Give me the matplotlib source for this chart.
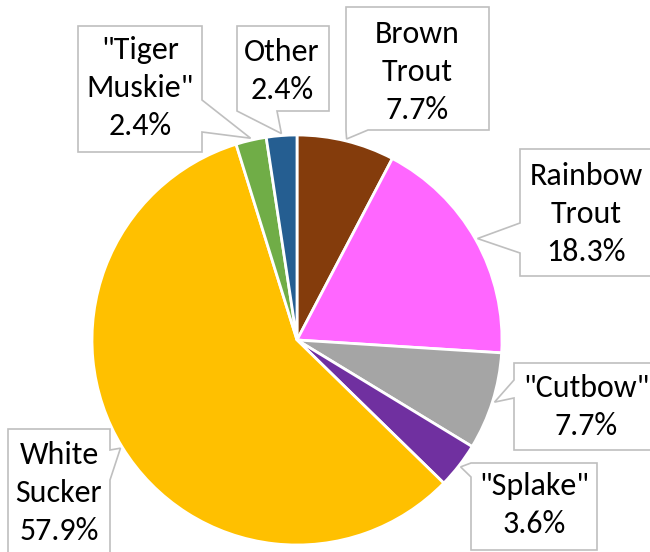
import matplotlib
matplotlib.use("Agg")
import matplotlib.pyplot as plt
from matplotlib.patches import Polygon
import numpy as np

# ---- data ----
categories = ["Brown\nTrout", "Rainbow\nTrout", "\"Cutbow\"", "\"Splake\"",
              "White\nSucker", "\"Tiger\nMuskie\"", "Other"]
values = [7.7, 18.3, 7.7, 3.6, 57.9, 2.4, 2.4]
colors = ["#843C0C", "#FF66FF", "#A5A5A5", "#7030A0", "#FFC000", "#70AD47", "#255E91"]

# ---- layout (pixel geometry of the figure) ----
W, H = 650, 552
CX, CY, R = 297, 340, 205

def px(x, y):
    return ((x - CX) / R, (CY - y) / R)

# label boxes: (left, top, right, bottom), pointer edge, base points along edge, text centre
boxes = [
    dict(rect=(346, 7, 489, 130), edge="bottom", base=(368, 346), text=(417, 72)),
    dict(rect=(520, 149, 653, 276), edge="left", base=(253, 223), text=(586, 214)),
    dict(rect=(514, 363, 653, 450), edge="left", base=(398, 380), text=(586, 407)),
    dict(rect=(471, 463, 597, 550), edge="left", base=(477, 463), text=(534, 505)),
    dict(rect=(8, 429, 110, 556), edge="right", base=(450, 480), text=(59, 493)),
    dict(rect=(78, 26, 202, 152), edge="right", base=(100, 132), text=(140, 88)),
    dict(rect=(237, 26, 329, 111), edge="bottom", base=(277, 237), text=(282, 71)),
]

plt.rcParams['font.family'] = ['Carlito', 'Open Sans', 'DejaVu Sans']

fig = plt.figure(figsize=(W / 100, H / 100), dpi=100)
ax = fig.add_axes([0, 0, 1, 1])
ax.pie(values, colors=colors, startangle=90, counterclock=False, radius=1,
       wedgeprops=dict(edgecolor="white", linewidth=2))
ax.set_xlim(-CX / R, (W - CX) / R)
ax.set_ylim(-(H - CY) / R, CY / R)
ax.set_aspect("equal")
ax.axis("off")

cum = np.cumsum(values)
total = cum[-1]
for i, (lab, b) in enumerate(zip(categories, boxes)):
    theta = np.deg2rad(360 * (cum[i] - values[i] / 2) / total)
    tip = (1.01 * np.sin(theta), 1.01 * np.cos(theta))
    l, t, r, bt = b["rect"]
    TL, TR, BR, BLc = px(l, t), px(r, t), px(r, bt), px(l, bt)
    e = b["edge"]
    b1, b2 = b["base"]
    if e == "bottom":
        p1, p2 = px(b1, bt), px(b2, bt)
        verts = [TL, TR, BR, p1, tip, p2, BLc]
    elif e == "left":
        p1, p2 = px(l, b1), px(l, b2)
        verts = [TL, TR, BR, BLc, p1, tip, p2]
    elif e == "right":
        p1, p2 = px(r, b1), px(r, b2)
        verts = [TL, TR, p1, tip, p2, BR, BLc]
    poly = Polygon(verts, closed=True, facecolor="white", edgecolor="#BFBFBF",
                   linewidth=1.2, joinstyle="miter", zorder=5)
    ax.add_patch(poly)
    tx, ty = px(*b["text"])
    ax.text(tx, ty, f"{lab}\n{values[i]:.1f}%", ha="center", va="center",
            fontsize=23, linespacing=1.42, color="black", zorder=6)

fig.savefig("out.png", dpi=100)
